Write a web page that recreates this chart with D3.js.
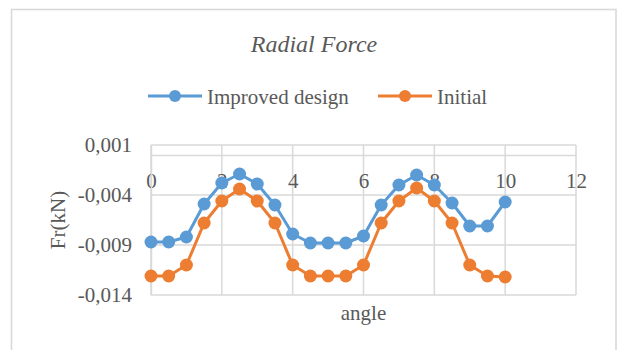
<!DOCTYPE html>
<html>
<head>
<meta charset="utf-8">
<script src="https://cdn.jsdelivr.net/npm/d3@7"></script>
<style>
  html, body { margin: 0; padding: 0; background: #fff; }
  svg { display: block; }
  text { font-family: "Liberation Serif", "Times New Roman", serif; fill: #595959; }
</style>
</head>
<body>
<svg id="chart" width="620" height="350"></svg>
<script>
// Radial force vs. angle, two designs
const angles = [0, 0.5, 1, 1.5, 2, 2.5, 3, 3.5, 4, 4.5, 5, 5.5, 6, 6.5, 7, 7.5, 8, 8.5, 9, 9.5, 10];
const improved = [-0.0087, -0.0087, -0.0082, -0.0049, -0.0028, -0.0019, -0.0029, -0.0050, -0.0079, -0.0088, -0.0088,
                  -0.0088, -0.0081, -0.0050, -0.0030, -0.0020, -0.0030, -0.0048, -0.0071, -0.0071, -0.0047];
const initial = [-0.0121, -0.0121, -0.0110, -0.0068, -0.0046, -0.0034, -0.0046, -0.0068, -0.0110, -0.0121, -0.0121,
                 -0.0121, -0.0110, -0.0068, -0.0046, -0.0033, -0.0046, -0.0068, -0.0110, -0.0121, -0.0122];
const xTicks = [0, 2, 4, 6, 8, 10, 12];
const yTicks = [0.001, -0.004, -0.009, -0.014];
const seriesNames = ["Improved design", "Initial"];
const seriesColors = ["#5B9BD5", "#ED7D31"];

const svg = d3.select("#chart");
const grid = "#d9d9d9";

// chart frame
svg.append("rect")
  .attr("x", 11.5).attr("y", 9.5).attr("width", 604.5).attr("height", 420)
  .attr("fill", "#fff").attr("stroke", grid).attr("stroke-width", 1.6);

const x = d3.scaleLinear().domain([0, 12]).range([151, 576]);
const y = d3.scaleLinear().domain([-0.014, 0.001]).range([295, 145]);

const loc = d3.formatLocale({ decimal: ",", thousands: ".", grouping: [3], currency: ["", ""], minus: "-" });
const fmt = loc.format(".3f");

// gridlines
const g = svg.append("g");
g.selectAll(".hg").data(yTicks).join("line")
  .attr("x1", x(0)).attr("x2", x(12))
  .attr("y1", d => y(d)).attr("y2", d => y(d))
  .attr("stroke", grid).attr("stroke-width", 1.5);
g.selectAll(".vg").data(xTicks).join("line")
  .attr("x1", d => x(d)).attr("x2", d => x(d))
  .attr("y1", y(0.001)).attr("y2", y(-0.014))
  .attr("stroke", grid).attr("stroke-width", 1.5);

// horizontal axis crossing at zero
const xAxis = svg.append("g")
  .attr("transform", `translate(0,${y(0)})`)
  .call(d3.axisBottom(x).tickValues(xTicks).tickSize(0).tickPadding(18).tickFormat(d3.format("d")));
xAxis.select(".domain").attr("stroke", grid).attr("stroke-width", 1.5);
xAxis.selectAll("text").style("font-size", "21px").attr("fill", "#595959")
  .style("font-family", "'Liberation Serif', serif");

// vertical axis
const yAxis = svg.append("g")
  .attr("transform", `translate(${x(0)},0)`)
  .call(d3.axisLeft(y).tickValues(yTicks).tickSize(0).tickPadding(19).tickFormat(fmt));
yAxis.select(".domain").attr("stroke", grid).attr("stroke-width", 1.5);
yAxis.selectAll("text").style("font-size", "21px").attr("fill", "#595959")
  .style("font-family", "'Liberation Serif', serif");

// series
const sets = [improved, initial];
const line = d3.line().x((d, i) => x(angles[i])).y(d => y(d));
sets.forEach((vals, k) => {
  svg.append("path").datum(vals)
    .attr("d", line).attr("fill", "none")
    .attr("stroke", seriesColors[k]).attr("stroke-width", 3).attr("stroke-linejoin", "round");
  svg.append("g").selectAll("circle").data(vals).join("circle")
    .attr("cx", (d, i) => x(angles[i])).attr("cy", d => y(d)).attr("r", 6.5)
    .attr("fill", seriesColors[k]);
});

// title
svg.append("text").attr("x", 314).attr("y", 52).attr("text-anchor", "middle")
  .style("font-size", "24px").style("font-style", "italic").text("Radial Force");

// legend
const legendX = [148, 378];
seriesNames.forEach((name, k) => {
  const lx = legendX[k];
  svg.append("line").attr("x1", lx).attr("x2", lx + 54).attr("y1", 96).attr("y2", 96)
    .attr("stroke", seriesColors[k]).attr("stroke-width", 3);
  svg.append("circle").attr("cx", lx + 27).attr("cy", 96).attr("r", 6).attr("fill", seriesColors[k]);
  svg.append("text").attr("x", lx + 59).attr("y", 103.5)
    .style("font-size", "21px").text(name);
});

// axis titles
svg.append("text").attr("transform", `translate(65,${(y(0.001) + y(-0.014)) / 2}) rotate(-90)`)
  .attr("text-anchor", "middle").style("font-size", "21px").text("Fr(kN)");
svg.append("text").attr("x", (x(0) + x(12)) / 2).attr("y", 320)
  .attr("text-anchor", "middle").style("font-size", "21px").text("angle");
</script>
</body>
</html>
